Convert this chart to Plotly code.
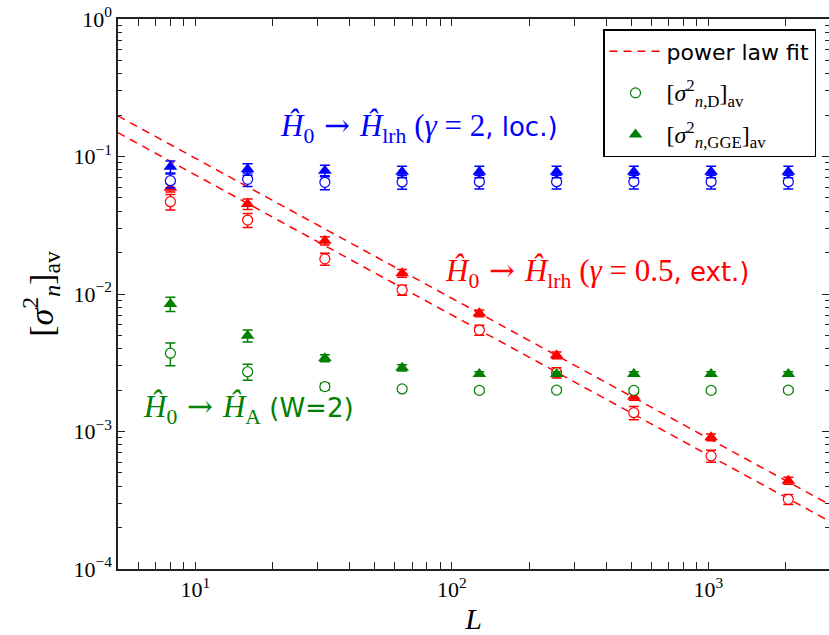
import numpy as np
import plotly.graph_objects as go

# ---------------- data ----------------
L = [8, 16, 32, 64, 128, 256, 512, 1024, 2048]

# gamma = 2, local (blue)
loc_D = [0.0667, 0.0683, 0.0649, 0.0653, 0.0656, 0.0656, 0.0656, 0.0656, 0.0656]
loc_D_err = [0.0078, 0.0077, 0.0075, 0.0075, 0.0075, 0.0075, 0.0075, 0.0075, 0.0075]
loc_GGE = [0.0843, 0.0807, 0.0788, 0.0775, 0.0775, 0.0775, 0.0775, 0.0775, 0.0775]
loc_GGE_err = [0.0085, 0.0078, 0.0075, 0.0075, 0.0075, 0.0075, 0.0075, 0.0075, 0.0075]

# gamma = 0.5, extensive (red)
ext_D = [0.0469, 0.0345, 0.0180, 0.0107, 0.00547, 0.00268, 0.00137, 0.000664, 0.000321]
ext_D_err = [0.0061, 0.0040, 0.0018, 0.0009, 0.00046, 0.00023, 0.00015, 0.000066, 0.000027]
ext_GGE = [0.0593, 0.0451, 0.0244, 0.01416, 0.00724, 0.00358, 0.00179, 0.000907, 0.000439]
ext_GGE_err = [0.0042, 0.0039, 0.0017, 0.0009, 0.0004, 0.0002, 0.0001, 0.00005, 0.000025]

# Anderson W = 2 (green)
A_D = [0.00371, 0.00272, 0.00212, 0.00204, 0.00199, 0.00200, 0.00199, 0.00199, 0.00200]
A_D_err = [0.0007, 0.00036, 0.00012, 0.00008, 0.00008, 0.00008, 0.00008, 0.00008, 0.00008]
A_GGE = [0.00846, 0.00498, 0.00341, 0.00291, 0.00262, 0.00262, 0.00262, 0.00262, 0.00262]
A_GGE_err = [0.0010, 0.0005, 0.0002, 0.00015, 0.0001, 0.0001, 0.0001, 0.0001, 0.0001]

# power-law fit parameters
fit_exp = -1.019
fit_amp_GGE = 1.016
fit_amp_D = 0.768
fit_L = [4, 4000]

x_ticks = [10, 100, 1000]
x_tick_text = ["10<sup>1</sup>", "10<sup>2</sup>", "10<sup>3</sup>"]
y_ticks = [1e-4, 1e-3, 1e-2, 1e-1, 1]
y_tick_text = ["10<sup>−4</sup>", "10<sup>−3</sup>", "10<sup>−2</sup>",
               "10<sup>−1</sup>", "10<sup>0</sup>"]
x_minor = [m * 10 ** k for k in range(0, 4) for m in range(2, 10)]
y_minor = [m * 10.0 ** k for k in range(-4, 0) for m in range(2, 10)]

BLUE = "#0000ff"
RED = "#ff0000"
GREEN = "#008000"
SERIF = "Liberation Serif"
SANS = "DejaVu Sans"

fig = go.Figure()

# fit lines
for amp, show in [(fit_amp_GGE, True), (fit_amp_D, False)]:
    fig.add_trace(go.Scatter(
        x=fit_L, y=[amp * l ** fit_exp for l in fit_L], mode="lines",
        line=dict(color=RED, width=1.5, dash="8px,6px"),
        name="power law fit", showlegend=show, legendrank=1, legendgroup="fit",
    ))


def add_series(y, err, color, kind, name=None, show=False, rank=10, group=None):
    if kind == "D":
        marker = dict(symbol="circle", size=10, color="white",
                      line=dict(color=color, width=1.2))
    else:
        marker = dict(symbol="triangle-up", size=12, color=color,
                      line=dict(color=color, width=0))
    fig.add_trace(go.Scatter(
        x=L, y=y, mode="markers", marker=marker,
        error_y=dict(type="data", array=err, visible=True, color=color,
                     thickness=1.5, width=5),
        name=name or "", showlegend=show, legendrank=rank,
        legendgroup=group,
    ))


add_series(ext_D, ext_D_err, RED, "D")
add_series(ext_GGE, ext_GGE_err, RED, "GGE")
add_series(loc_D, loc_D_err, BLUE, "D")
add_series(loc_GGE, loc_GGE_err, BLUE, "GGE")
add_series(A_D, A_D_err, GREEN, "D",
           name=f"<span style='font-family:{SERIF};font-size:24px'>[<i>σ</i><sup>2</sup><sub><i>n</i>,D</sub>]<sub>av</sub></span>",
           show=True, rank=2, group="D")
add_series(A_GGE, A_GGE_err, GREEN, "GGE",
           name=f"<span style='font-family:{SERIF};font-size:24px'>[<i>σ</i><sup>2</sup><sub><i>n</i>,GGE</sub>]<sub>av</sub></span>",
           show=True, rank=3, group="GGE")

# plot area geometry
W, H = 829, 635
left, right, top, bottom = 118, 0, 19, 66
x0 = np.log10(5)
x1 = x0 + (W - left - right) / 256.6

tickfont = dict(family=SERIF, size=22, color="black")


def minor_of(vals):
    return dict(tickmode="array", tickvals=vals, ticks="inside", ticklen=4,
                tickwidth=1, tickcolor="#222", showgrid=False)


fig.update_layout(
    width=W, height=H,
    margin=dict(l=left, r=right, t=top, b=bottom, pad=0),
    paper_bgcolor="white", plot_bgcolor="white",
    xaxis=dict(
        type="log", range=[x0, x1], tickvals=x_ticks, ticktext=x_tick_text,
        ticks="inside", ticklen=7, tickwidth=1, tickcolor="#222",
        showgrid=False, zeroline=False, tickfont=tickfont, minor=minor_of(x_minor),
        showline=True, linecolor="#222", linewidth=1.5, mirror="allticks",
        title=dict(text="<i>L</i>", font=dict(family=SERIF, size=30, color="black"),
                   standoff=2),
    ),
    yaxis=dict(
        type="log", range=[-4, 0], tickvals=y_ticks, ticktext=y_tick_text,
        ticks="inside", ticklen=7, tickwidth=1, tickcolor="#222",
        showgrid=False, zeroline=False, tickfont=tickfont, minor=minor_of(y_minor),
        showline=True, linecolor="#222", linewidth=1.5, mirror=False,
        title=dict(text="[<i>σ</i><sup>2</sup><sub><i>n</i></sub>]<sub>av</sub>",
                   font=dict(family=SERIF, size=34, color="black"), standoff=10),
    ),
    yaxis2=dict(
        type="log", range=[-4, 0], tickvals=y_ticks,
        ticks="inside", ticklen=7, tickwidth=1, tickcolor="#222",
        showgrid=False, zeroline=False, showticklabels=False,
        minor=minor_of(y_minor),
        overlaying="y", side="right", anchor="x", showline=False,
    ),
    legend=dict(
        x=(603 - left) / (W - left - right), y=(H - bottom - 29) / (H - top - bottom),
        xanchor="left", yanchor="top",
        bordercolor="black", borderwidth=1.5, bgcolor="white",
        font=dict(family=SANS, size=22, color="black"),
        tracegroupgap=10, itemwidth=52,
    ),
    showlegend=True,
)

# dummy trace to materialise the right-hand tick axis
fig.add_trace(go.Scatter(x=[None], y=[None], yaxis="y2", showlegend=False,
                         hoverinfo="skip"))

pw = W - left - right
ph = H - top - bottom


def px(xp):
    return (xp - left) / pw


def py(yp):
    return (H - bottom - yp) / ph


SANS_SPAN = f"<span style='font-family:{SANS};font-size:26px'>"
ARROW = f"<span style='font-family:DejaVu Serif'> → </span>"

fig.add_annotation(
    xref="paper", yref="paper", x=px(278), y=py(127), xanchor="left", yanchor="middle",
    showarrow=False, font=dict(family=SERIF, size=31, color=BLUE),
    text=f"<i>Ĥ</i><sub>0</sub>{ARROW}<i>Ĥ</i><sub>lrh</sub> (<i>γ</i> = 2{SANS_SPAN}, loc.)</span>",
)
fig.add_annotation(
    xref="paper", yref="paper", x=px(443), y=py(272), xanchor="left", yanchor="middle",
    showarrow=False, font=dict(family=SERIF, size=31, color=RED),
    text=f"<i>Ĥ</i><sub>0</sub>{ARROW}<i>Ĥ</i><sub>lrh</sub> (<i>γ</i> = 0.5{SANS_SPAN}, ext.)</span>",
)
fig.add_annotation(
    xref="paper", yref="paper", x=px(141), y=py(408), xanchor="left", yanchor="middle",
    showarrow=False, font=dict(family=SERIF, size=31, color=GREEN),
    text=f"<i>Ĥ</i><sub>0</sub>{ARROW}<i>Ĥ</i><sub>A</sub>{SANS_SPAN} (W=2)</span>",
)

fig.write_html("out.html")
